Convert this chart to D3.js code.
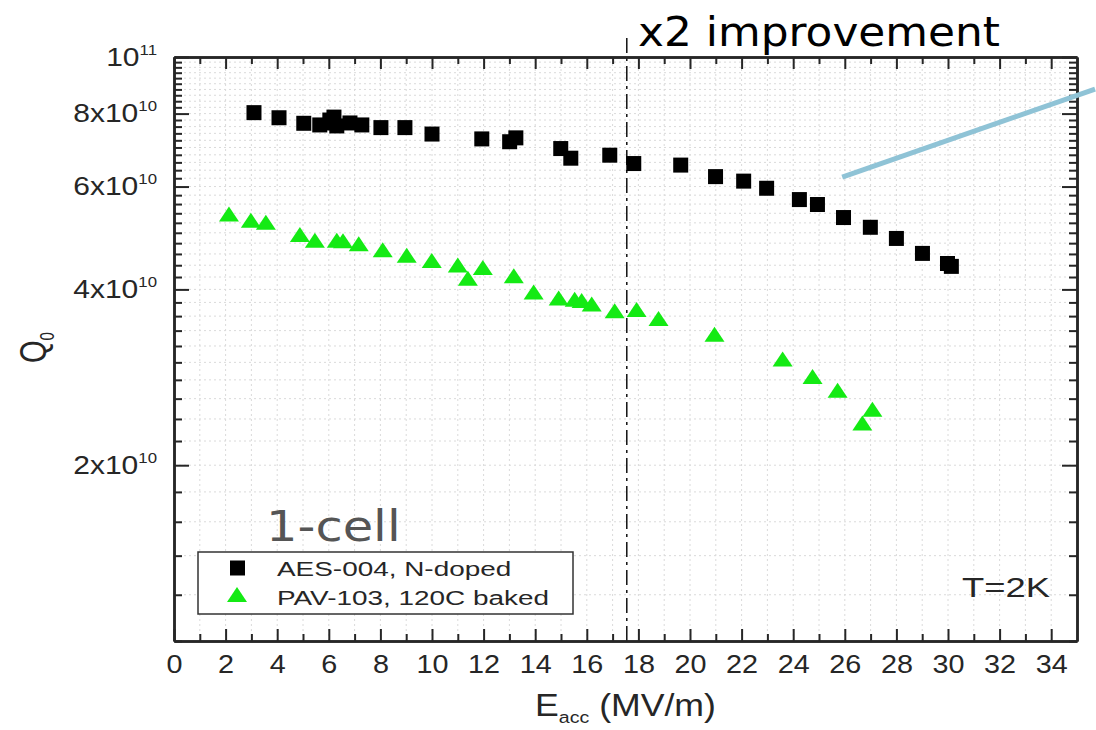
<!DOCTYPE html>
<html>
<head>
<meta charset="utf-8">
<script src="https://cdn.jsdelivr.net/npm/d3@7"></script>
<style>
  body { margin: 0; background: #fff; }
  svg { display: block; }
</style>
</head>
<body>
<svg id="chart" width="1096" height="730"></svg>
<script>
// AES-004, N-doped (black squares)
const dopedE = [3.10, 4.07, 5.03, 5.65, 6.04, 6.12, 6.20, 6.31, 6.82, 7.28, 8.02, 8.95, 10.0,
  11.93, 13.01, 13.25, 14.99, 15.38, 16.89, 17.82, 19.64, 20.99, 22.08, 22.97, 24.24, 24.94,
  25.95, 26.99, 28.0, 29.01, 29.98, 30.13];
const dopedQ = [8.03e10, 7.87e10, 7.70e10, 7.65e10, 7.80e10, 7.71e10, 7.89e10, 7.62e10, 7.71e10,
  7.65e10, 7.57e10, 7.57e10, 7.38e10, 7.24e10, 7.16e10, 7.27e10, 6.97e10, 6.71e10, 6.79e10,
  6.57e10, 6.53e10, 6.24e10, 6.13e10, 5.96e10, 5.70e10, 5.59e10, 5.31e10, 5.11e10, 4.89e10,
  4.61e10, 4.43e10, 4.38e10];

// PAV-103, 120C baked (green triangles)
const bakedE = [2.13, 2.98, 3.56, 4.88, 5.46, 6.31, 6.55, 7.16, 8.09, 9.02, 9.99, 11.0, 11.39,
  11.97, 13.17, 13.94, 14.91, 15.53, 15.8, 16.19, 17.08, 17.93, 18.78, 20.95, 23.59, 24.75,
  25.72, 26.68, 27.07];
const bakedQ = [5.33e10, 5.20e10, 5.16e10, 4.92e10, 4.81e10, 4.81e10, 4.80e10, 4.74e10, 4.63e10,
  4.53e10, 4.44e10, 4.36e10, 4.14e10, 4.32e10, 4.18e10, 3.92e10, 3.83e10, 3.81e10, 3.79e10,
  3.74e10, 3.64e10, 3.66e10, 3.53e10, 3.32e10, 3.01e10, 2.81e10, 2.66e10, 2.34e10, 2.47e10];

const seriesNames = ['AES-004, N-doped', 'PAV-103, 120C baked'];

const xMajor = d3.range(0, 35, 2);      // 0 .. 34, labelled
const xMinor = d3.range(1, 35, 2);
const yTicks = d3.range(10, 101, 2).map(v => v * 1e9);   // 1e10 .. 1e11 step 2e9
const yLabelled = [2e10, 4e10, 6e10, 8e10, 1e11];

const markE = 17.55;                           // "x2 improvement" marker line
const pointer = [[25.9, 6.23e10], [35.7, 8.81e10]]; // blue annotation stroke

const svg = d3.select('#chart');
const font = 'Liberation Sans, Arial, sans-serif';
const ink = '#262626';

const x = d3.scaleLinear().domain([0, 35]).range([174, 1077]);
const y = d3.scaleLog().domain([1e10, 1e11]).range([641, 57]);

// dotted grid
const grid = svg.append('g').attr('stroke', '#dadada').attr('stroke-width', 1)
  .attr('stroke-dasharray', '2,3');
grid.selectAll('.gx').data(d3.range(1, 35)).join('line')
  .attr('x1', d => x(d)).attr('x2', d => x(d))
  .attr('y1', y.range()[0]).attr('y2', y.range()[1]);
grid.selectAll('.gy').data(yTicks.slice(1, -1)).join('line')
  .attr('y1', d => y(d)).attr('y2', d => y(d))
  .attr('x1', x.range()[0]).attr('x2', x.range()[1]);

// dash-dot marker line
svg.append('line')
  .attr('x1', x(markE)).attr('x2', x(markE))
  .attr('y1', y.range()[1] - 19).attr('y2', y.range()[0])
  .attr('stroke', '#111').attr('stroke-width', 1.5)
  .attr('stroke-dasharray', '15,5,3,5');

// markers
svg.append('g').selectAll('rect').data(dopedE).join('rect')
  .attr('x', (d, i) => x(d) - 7.5).attr('y', (d, i) => y(dopedQ[i]) - 7.5)
  .attr('width', 15).attr('height', 15).attr('fill', '#000');

const tri = 'M0,-10L10,5L-10,5Z';
svg.append('g').selectAll('path').data(bakedE).join('path')
  .attr('d', tri)
  .attr('transform', (d, i) => `translate(${x(d)},${y(bakedQ[i])})`)
  .attr('fill', '#14ea14');

// axes
function styleAxis(g) {
  g.select('.domain').attr('stroke', ink).attr('stroke-width', 2.5);
  g.selectAll('.tick line').attr('stroke', ink).attr('stroke-width', 2);
}
const h = y.range()[0] - y.range()[1];
const w = x.range()[1] - x.range()[0];

// bottom
svg.append('g').attr('transform', `translate(0,${y.range()[0]})`)
  .call(d3.axisBottom(x).tickValues(xMinor).tickSize(-7).tickSizeOuter(0).tickFormat(''))
  .call(styleAxis);
const bx = svg.append('g').attr('transform', `translate(0,${y.range()[0]})`)
  .call(d3.axisBottom(x).tickValues(xMajor).tickSize(-12).tickSizeOuter(0).tickPadding(14))
  .call(styleAxis);
bx.selectAll('.tick text').attr('font-family', font).attr('font-size', 25)
  .attr('fill', ink).attr('transform', 'scale(1.15,1)');

// top
svg.append('g').attr('transform', `translate(0,${y.range()[1]})`)
  .call(d3.axisTop(x).tickValues(xMinor).tickSize(-7).tickSizeOuter(0).tickFormat(''))
  .call(styleAxis);
svg.append('g').attr('transform', `translate(0,${y.range()[1]})`)
  .call(d3.axisTop(x).tickValues(xMajor).tickSize(-12).tickSizeOuter(0).tickFormat(''))
  .call(styleAxis);

// left
const isLab = v => yLabelled.some(l => Math.abs(l - v) < 1);
svg.append('g').attr('transform', `translate(${x.range()[0]},0)`)
  .call(d3.axisLeft(y).tickValues(yTicks.filter(v => !isLab(v))).tickSize(-8).tickSizeOuter(0).tickFormat(''))
  .call(styleAxis);
const ly = svg.append('g').attr('transform', `translate(${x.range()[0]},0)`)
  .call(d3.axisLeft(y).tickValues(yLabelled).tickSize(-15).tickSizeOuter(0).tickPadding(17))
  .call(styleAxis);
ly.selectAll('.tick text').each(function(v) {
  const t = d3.select(this);
  const exp = Math.floor(Math.log10(v) + 1e-9);
  const m = Math.round(v / Math.pow(10, exp));
  t.text(null).attr('font-family', font).attr('font-size', 25).attr('fill', ink)
    .attr('x', 0).attr('transform', 'translate(-17,0) scale(1.2,1)');
  t.append('tspan').text(m === 1 ? '10' : m + 'x10');
  t.append('tspan').attr('dy', -11).attr('font-size', 14).text(exp);
});

// right
svg.append('g').attr('transform', `translate(${x.range()[1]},0)`)
  .call(d3.axisRight(y).tickValues(yTicks.filter(v => !isLab(v))).tickSize(-8).tickSizeOuter(0).tickFormat(''))
  .call(styleAxis);
svg.append('g').attr('transform', `translate(${x.range()[1]},0)`)
  .call(d3.axisRight(y).tickValues(yLabelled).tickSize(-15).tickSizeOuter(0).tickFormat(''))
  .call(styleAxis);

// axis titles
const xt = svg.append('text').attr('font-family', font).attr('font-size', 31).attr('fill', ink)
  .attr('text-anchor', 'middle')
  .attr('transform', `translate(${x.range()[0] + w / 2},716) scale(1.15,1)`);
xt.append('tspan').text('E');
xt.append('tspan').attr('font-size', 17).attr('dy', 7).text('acc');
xt.append('tspan').attr('dy', -7).text(' (MV/m)');

const yt = svg.append('text').attr('font-family', font).attr('font-size', 29).attr('fill', ink)
  .attr('transform', `translate(46,${y.range()[1] + h / 2 + 14}) scale(1.3,1) rotate(-90)`);
yt.append('tspan').text('Q');
yt.append('tspan').attr('font-size', 15).attr('dy', 6).text('0');

// legend
const lg = svg.append('g').attr('transform', 'translate(198,552)');
lg.append('rect').attr('width', 375).attr('height', 62)
  .attr('fill', '#fff').attr('stroke', '#333').attr('stroke-width', 1.5);
const rows = lg.selectAll('g.row').data(seriesNames).join('g')
  .attr('transform', (d, i) => `translate(0,${16 + i * 29})`);
rows.filter((d, i) => i === 0).append('rect')
  .attr('x', 32).attr('y', -7.5).attr('width', 15).attr('height', 15).attr('fill', '#000');
rows.filter((d, i) => i === 1).append('path')
  .attr('d', tri).attr('transform', 'translate(39,0)').attr('fill', '#14ea14');
rows.append('text').attr('font-family', font).attr('font-size', 21).attr('fill', ink)
  .attr('transform', 'translate(79,8) scale(1.33,1)').text(d => d);

// annotations
svg.append('text').attr('font-family', font).attr('font-size', 28).attr('fill', ink)
  .attr('text-anchor', 'end')
  .attr('transform', 'translate(1050,597) scale(1.3,1)').text('T=2K');

svg.append('text').attr('font-family', 'DejaVu Sans, sans-serif').attr('font-size', 42)
  .attr('fill', '#555').attr('transform', 'translate(266,541) scale(1.18,1)').text('1-cell');

svg.append('text').attr('font-family', 'DejaVu Sans, sans-serif').attr('font-size', 41)
  .attr('fill', '#000').attr('transform', 'translate(638,46) scale(1.07,1)').text('x2 improvement');

svg.append('line')
  .attr('x1', x(pointer[0][0])).attr('y1', y(pointer[0][1]))
  .attr('x2', x(pointer[1][0])).attr('y2', y(pointer[1][1]))
  .attr('stroke', '#8fc3d6').attr('stroke-width', 5);
</script>
</body>
</html>
